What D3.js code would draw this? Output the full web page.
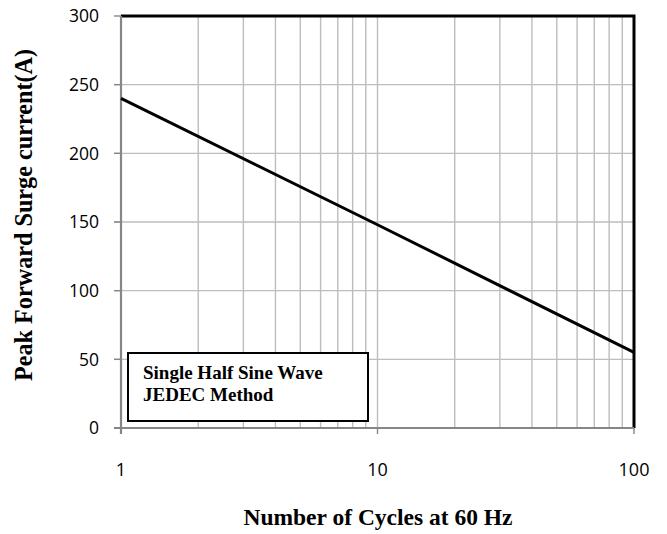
<!DOCTYPE html>
<html><head><meta charset="utf-8">
<script src="https://cdn.jsdelivr.net/npm/d3@7"></script>
<style>body{margin:0;background:#fff}</style>
</head><body>
<script>
const cycles = [1, 10, 100];
const current = [240, 148, 55];
const yTicks = [0, 50, 100, 150, 200, 250, 300];
const xTicks = [1, 10, 100];
const xMinor = [2,3,4,5,6,7,8,9,20,30,40,50,60,70,80,90];
const legendLines = ["Single Half Sine Wave", "JEDEC Method"];
const xTitle = "Number of Cycles at 60 Hz";
const yTitle = "Peak Forward Surge current(A)";

const W = 667, H = 534;
const m = {left: 121, right: 634, top: 16, bottom: 428};
const svg = d3.select("body").append("svg").attr("width", W).attr("height", H);
const x = d3.scaleLog().domain([1, 100]).range([m.left, m.right]);
const y = d3.scaleLinear().domain([0, 300]).range([m.bottom, m.top]);
const serif = "Liberation Serif, Times New Roman, serif";
const sans = "Open Sans, Liberation Sans, sans-serif";

// gridlines
svg.append("g").selectAll("line").data(xMinor.concat([10])).join("line")
  .attr("x1", d => x(d)).attr("x2", d => x(d)).attr("y1", m.top).attr("y2", m.bottom)
  .attr("stroke", "#bdbdbd").attr("stroke-width", 1.4);
svg.append("g").selectAll("line").data(yTicks.slice(1, -1)).join("line")
  .attr("x1", m.left - 7).attr("x2", m.right).attr("y1", d => y(d)).attr("y2", d => y(d))
  .attr("stroke", "#bdbdbd").attr("stroke-width", 1.4);

// top/right border
svg.append("path").attr("d", `M${m.left},${m.top}H${m.right}V${m.bottom}`)
  .attr("fill", "none").attr("stroke", "#000").attr("stroke-width", 3);

// legend box
const lg = svg.append("g");
lg.append("rect").attr("x", 128).attr("y", 353).attr("width", 240).attr("height", 68)
  .attr("fill", "#fff").attr("stroke", "#000").attr("stroke-width", 2);
lg.selectAll("text").data(legendLines).join("text")
  .attr("x", 143).attr("y", (d, i) => 379 + i * 22)
  .attr("font-family", serif).attr("font-weight", "bold")
  .attr("font-size", 19).text(d => d);

// axes lines (gray)
svg.append("line").attr("x1", m.left).attr("x2", m.left).attr("y1", m.top).attr("y2", m.bottom + 6)
  .attr("stroke", "#868686").attr("stroke-width", 2.2);
svg.append("line").attr("x1", m.left - 7).attr("x2", m.right).attr("y1", m.bottom).attr("y2", m.bottom)
  .attr("stroke", "#868686").attr("stroke-width", 2.2);
// y ticks
svg.append("g").selectAll("line").data(yTicks).join("line")
  .attr("x1", m.left - 7).attr("x2", m.left).attr("y1", d => y(d)).attr("y2", d => y(d))
  .attr("stroke", "#868686").attr("stroke-width", 1.4);
// x ticks
svg.append("g").selectAll("line").data(xTicks).join("line")
  .attr("x1", d => x(d)).attr("x2", d => x(d)).attr("y1", m.bottom).attr("y2", m.bottom + 6)
  .attr("stroke", "#868686").attr("stroke-width", 1.4);

// tick labels
svg.append("g").selectAll("text").data(yTicks).join("text")
  .attr("x", 99).attr("y", d => y(d)).attr("dy", "0.36em").attr("text-anchor", "end")
  .attr("font-family", sans).attr("font-size", 17.5)
  .text(d => d);
svg.append("g").selectAll("text").data(xTicks).join("text")
  .attr("x", d => x(d)).attr("y", 469.5).attr("dy", "0.36em").attr("text-anchor", "middle")
  .attr("font-family", sans).attr("font-size", 18)
  .text(d => d);

// line
svg.append("path").datum(cycles.map((c, i) => [c, current[i]]))
  .attr("d", d3.line().x(d => x(d[0])).y(d => y(d[1])))
  .attr("fill", "none").attr("stroke", "#000").attr("stroke-width", 3);

// titles
svg.append("text").attr("x", 378).attr("y", 525).attr("text-anchor", "middle")
  .attr("font-family", serif).attr("font-weight", "bold")
  .attr("font-size", 23.5).text(xTitle);
svg.append("text").attr("transform", "translate(32,215) rotate(-90)").attr("text-anchor", "middle")
  .attr("font-family", serif).attr("font-weight", "bold")
  .attr("font-size", 24.2).text(yTitle);
</script>
</body></html>
